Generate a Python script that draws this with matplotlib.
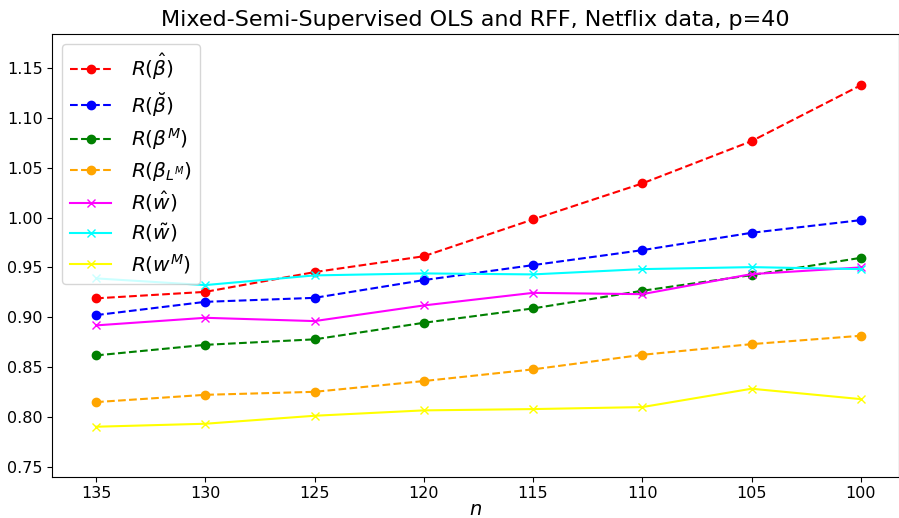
import matplotlib
matplotlib.use("Agg")
import matplotlib.pyplot as plt

n = [135, 130, 125, 120, 115, 110, 105, 100]
r_beta_hat = [0.919, 0.9255, 0.9453, 0.9612, 0.9981, 1.0342, 1.0766, 1.1326]
r_beta_breve = [0.9022, 0.9155, 0.9195, 0.9373, 0.9523, 0.9673, 0.9847, 0.9974]
r_beta_M = [0.8618, 0.8724, 0.8779, 0.8945, 0.9089, 0.9266, 0.9423, 0.9596]
r_beta_LM = [0.815, 0.8223, 0.8253, 0.8361, 0.8478, 0.8624, 0.8731, 0.8815]
r_w_hat = [0.8919, 0.8995, 0.8962, 0.9119, 0.9245, 0.9232, 0.9433, 0.950]
r_w_tilde = [0.939, 0.9323, 0.942, 0.944, 0.943, 0.9483, 0.9503, 0.9483]
r_w_M = [0.7903, 0.7933, 0.8013, 0.8067, 0.808, 0.810, 0.8284, 0.818]

fig = plt.figure(figsize=(8.99, 5.18), dpi=100)
ax = fig.add_axes([0.0582, 0.0797, 0.9418, 0.8543])

ax.plot(n, r_beta_hat, '--o', color='red', label=r'$R(\hat{\beta})$', markersize=6)
ax.plot(n, r_beta_breve, '--o', color='blue', label=r'$R(\breve{\beta})$', markersize=6)
ax.plot(n, r_beta_M, '--o', color='green', label=r'$R(\beta^{M})$', markersize=6)
ax.plot(n, r_beta_LM, '--o', color='orange', label=r'$R(\beta_{L^{M}})$', markersize=6)
ax.plot(n, r_w_hat, '-x', color='magenta', label=r'$R(\hat{w})$', markersize=6)
ax.plot(n, r_w_tilde, '-x', color='cyan', label=r'$R(\tilde{w})$', markersize=6)
ax.plot(n, r_w_M, '-x', color='yellow', label=r'$R(w^{M})$', markersize=6)

ax.set_xlim(137.0, 98.25)
ax.set_ylim(0.7402, 1.1838)
ax.set_xticks(n)
ax.set_yticks([0.75, 0.80, 0.85, 0.90, 0.95, 1.00, 1.05, 1.10, 1.15])
ax.tick_params(labelsize=11.5)
ax.set_xlabel(r'$n$', fontsize=14, labelpad=-1)
ax.set_title('Mixed-Semi-Supervised OLS and RFF, Netflix data, p=40', fontsize=16)
ax.legend(loc='upper left', fontsize=14.5, labelspacing=0.38, handletextpad=1.0)

fig.savefig('out.png', dpi=100)
